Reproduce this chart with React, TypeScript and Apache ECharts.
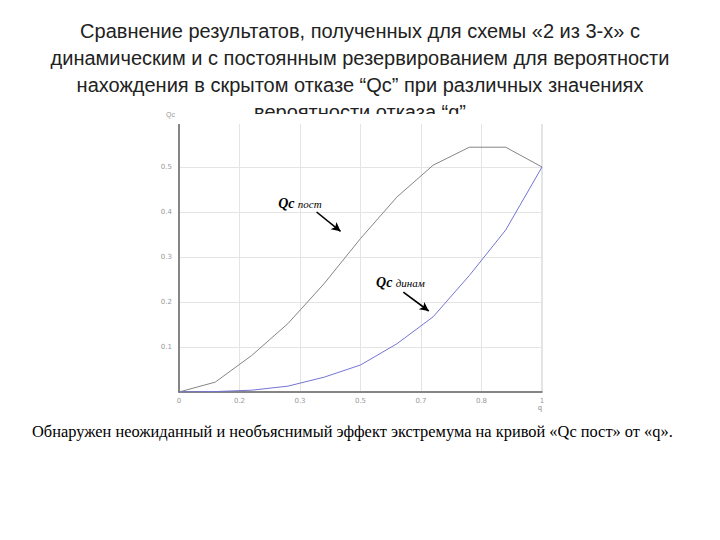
import React, { useEffect, useRef } from "react";
import * as echarts from "echarts";

const qValues = [0, 0.1, 0.2, 0.3, 0.4, 0.5, 0.6, 0.7, 0.8, 0.9, 1.0];
const qcPost = [0, 0.022, 0.081, 0.152, 0.241, 0.341, 0.433, 0.504, 0.544, 0.544, 0.5];
const qcDinam = [0, 0.001, 0.004, 0.013, 0.033, 0.06, 0.107, 0.167, 0.259, 0.36, 0.5];

const titleLines = [
  "Сравнение результатов, полученных для схемы «2 из 3-х» с",
  "динамическим и с постоянным резервированием для вероятности",
  "нахождения в скрытом отказе “Qc” при различных значениях",
  "вероятности отказа “q”",
];
const footnote =
  "Обнаружен неожиданный и необъяснимый эффект экстремума на кривой «Qc пост» от «q».";

const postLabel = { main: "Qc", sub: "пост", at: [0.333, 0.418], arrow: [[0.379, 0.4], [0.445, 0.357]] };
const dinamLabel = { main: "Qc", sub: "динам", at: [0.61, 0.243], arrow: [[0.618, 0.222], [0.688, 0.18]] };

function pairs(xs: number[], ys: number[]) {
  return xs.map((x, i) => [x, ys[i]]);
}

function annotationMarks(a: typeof postLabel) {
  return {
    markLine: {
      silent: true,
      symbol: ["none", "arrow"],
      symbolSize: [7, 9],
      lineStyle: { color: "#000", width: 1.6, type: "solid" },
      label: { show: false },
      data: [[{ coord: a.arrow[0] }, { coord: a.arrow[1] }]],
    },
    markPoint: {
      silent: true,
      symbol: "circle",
      symbolSize: 1,
      itemStyle: { color: "rgba(0,0,0,0)" },
      label: {
        show: true,
        position: "inside",
        formatter: `{a|${a.main}} {b|${a.sub}}`,
        rich: {
          a: { fontFamily: "Liberation Serif", fontStyle: "italic", fontWeight: "bold", fontSize: 14, color: "#000" },
          b: { fontFamily: "Liberation Serif", fontStyle: "italic", fontSize: 11, color: "#000" },
        },
      },
      data: [{ coord: a.at }],
    },
  };
}

export default function App() {
  const ref = useRef<HTMLDivElement>(null);
  useEffect(() => {
    document.body.style.margin = "0";
    if (!ref.current) return;
    const chart = echarts.init(ref.current, null, { renderer: "svg" });
    const axisLabelStyle = { fontSize: 7, color: "#999", fontFamily: "DejaVu Sans" };
    chart.setOption({
      animation: false,
      backgroundColor: "#fff",
      grid: { left: 179, top: 122, width: 363, height: 270, show: true, borderColor: "#c8c8c8", borderWidth: 1 },
      xAxis: {
        type: "value",
        min: 0,
        max: 1,
        interval: 1 / 6,
        name: "q",
        nameLocation: "end",
        nameGap: -4,
        nameTextStyle: { fontSize: 7, color: "#888", verticalAlign: "top", padding: [12, 0, 0, 0] },
        axisLine: { show: true, lineStyle: { color: "#666", width: 1.5 } },
        axisTick: { show: false },
        splitLine: { show: true, lineStyle: { color: "#e4e4e4", width: 1 } },
        axisLabel: {
          ...axisLabelStyle,
          margin: 5,
          formatter: (v: number) => String(Number(v.toFixed(1))),
        },
      },
      yAxis: {
        type: "value",
        min: 0,
        max: 0.6,
        interval: 0.1,
        name: "Qc",
        nameLocation: "end",
        nameGap: 4,
        nameTextStyle: { fontSize: 7, color: "#999", align: "right", padding: [0, 4, 0, 0] },
        axisLine: { show: true, lineStyle: { color: "#666", width: 1.5 } },
        axisTick: { show: false },
        splitLine: { show: true, lineStyle: { color: "#e4e4e4", width: 1 } },
        axisLabel: {
          ...axisLabelStyle,
          margin: 7,
          formatter: (v: number) => (v <= 0 || v >= 0.59 ? "" : v.toFixed(1)),
        },
      },
      series: [
        {
          type: "line",
          name: "Qc пост",
          data: pairs(qValues, qcPost),
          symbol: "none",
          lineStyle: { color: "#858585", width: 1 },
          z: 3,
          ...annotationMarks(postLabel),
        },
        {
          type: "line",
          name: "Qc динам",
          data: pairs(qValues, qcDinam),
          symbol: "none",
          lineStyle: { color: "#7474d4", width: 1 },
          z: 3,
          ...annotationMarks(dinamLabel),
        },
      ],
      graphic: [
        ...titleLines.map((t, i) => ({
          type: "text",
          z: 1,
          left: "center",
          top: 21 + i * 27,
          style: { text: t, fontFamily: "Liberation Sans", fontSize: 20, fill: "#222" },
        })),
        {
          type: "rect",
          z: 2,
          shape: { x: 178, y: 114, width: 380, height: 10 },
          style: { fill: "#fff" },
        },
        {
          type: "text",
          z: 1,
          left: 32,
          top: 423,
          style: { text: footnote, fontFamily: "Liberation Serif", fontSize: 16.4, fill: "#000" },
        },
      ],
    });
    return () => chart.dispose();
  }, []);
  return <div ref={ref} style={{ width: 720, height: 540 }} />;
}
